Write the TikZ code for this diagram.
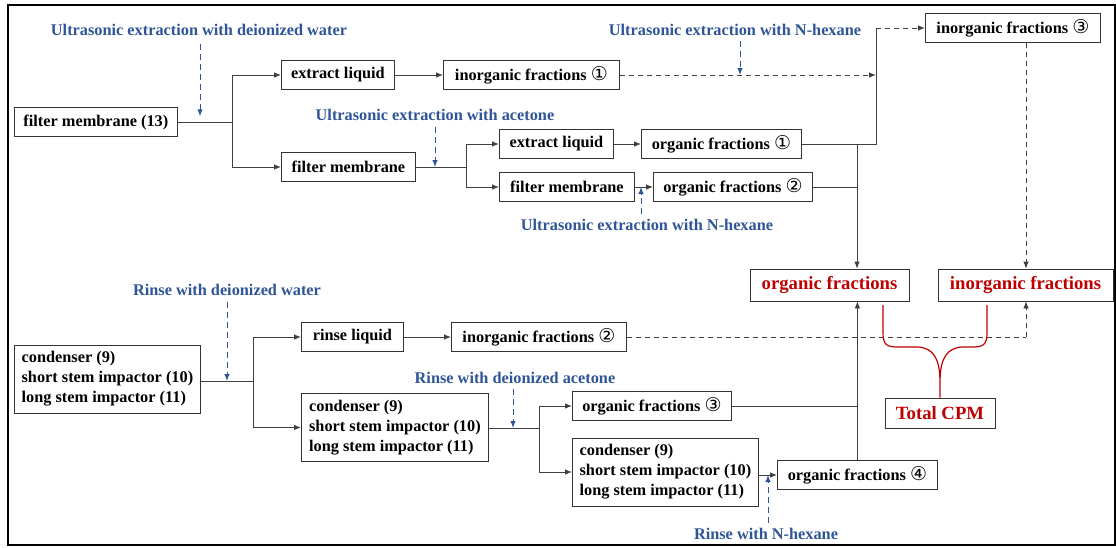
\documentclass[tikz,border=0pt]{standalone}
\usepackage{fontspec}
\setmainfont{Liberation Serif}
\newfontfamily\circfont{DejaVu Sans}
\usetikzlibrary{arrows.meta}

\definecolor{notecol}{HTML}{2F5597}
\definecolor{totcol}{HTML}{C00000}
\newcommand{\cnum}[1]{{\circfont\mdseries\fontsize{19}{20}\selectfont #1}}

\tikzset{
  box/.style={draw=black!80, line width=0.8pt, anchor=west, minimum height=29pt,
    inner xsep=6pt, font=\bfseries\fontsize{16.3}{20}\selectfont},
  stackbox/.style={box, align=left, minimum height=68pt},
  totbox/.style={box, anchor=center, text=totcol, minimum height=32pt,
    font=\bfseries\fontsize{18.7}{22}\selectfont},
  note/.style={text=notecol, font=\bfseries\fontsize{16.3}{20}\selectfont},
  wire/.style={draw=black!75, line width=0.8pt},
  arr/.style={wire, -{Latex[length=7pt,width=5.5pt]}},
  darr/.style={arr, dash pattern=on 5pt off 4pt},
  narr/.style={draw=notecol, line width=1pt, dash pattern=on 6pt off 4pt,
    -{Latex[length=7pt,width=5.5pt]}},
  brace/.style={draw=totcol, line width=1.2pt},
}

\begin{document}
\begin{tikzpicture}[x=1pt,y=-1pt]
  \useasboundingbox (0,0) rectangle (1116,547);
  \draw[line width=2pt] (8,5) rectangle (1115,545);

  % upper part: filter membrane
  \node[box, minimum width=163pt] (fm13) at (14,122) {filter membrane (13)};
  \node[box, minimum width=113pt] (el1) at (281,75) {extract liquid};
  \node[box, minimum width=176pt] (inorg1) at (443,75) {inorganic fractions \cnum{①}};
  \node[box, minimum width=134pt] (fm2) at (281,167) {filter membrane};
  \node[box, minimum width=114pt] (el2) at (499,144) {extract liquid};
  \node[box, minimum width=160pt] (org1) at (641,144) {organic fractions \cnum{①}};
  \node[box, minimum width=135pt] (fm3) at (499,187) {filter membrane};
  \node[box, minimum width=159pt] (org2) at (653,187) {organic fractions \cnum{②}};
  \node[box, minimum width=175pt] (inorg3) at (925,28) {inorganic fractions \cnum{③}};

  \node[note] (n1) at (199,30) {Ultrasonic extraction with deionized water};
  \node[note] (n2) at (435,115) {Ultrasonic extraction with acetone};
  \node[note] (n3) at (735,30) {Ultrasonic extraction with N-hexane};
  \node[note] (n4) at (647,225) {Ultrasonic extraction with N-hexane};

  % totals
  \node[totbox, minimum width=159pt] (orgT) at (829.5,285) {organic fractions};
  \node[totbox, minimum width=175pt] (inorgT) at (1025.5,285) {inorganic fractions};
  \node[totbox, minimum width=110pt, minimum height=30pt] (cpm) at (940,413) {Total CPM};

  % lower part: condenser and impactors
  \node[stackbox, minimum width=186pt] (cd1) at (14,379)
    {condenser (9)\\short stem impactor (10)\\long stem impactor (11)};
  \node[box, minimum width=102pt] (rl) at (301,337) {rinse liquid};
  \node[box, minimum width=175pt] (inorg2) at (451,337) {inorganic fractions \cnum{②}};
  \node[stackbox, minimum width=187pt] (cd2) at (301,427.5)
    {condenser (9)\\short stem impactor (10)\\long stem impactor (11)};
  \node[box, minimum width=159pt] (org3) at (572,406) {organic fractions \cnum{③}};
  \node[stackbox, minimum width=186pt] (cd3) at (572,472)
    {condenser (9)\\short stem impactor (10)\\long stem impactor (11)};
  \node[box, minimum width=160pt] (org4) at (777,475) {organic fractions \cnum{④}};

  \node[note] (n5) at (227,290) {Rinse with deionized water};
  \node[note] (n6) at (515,378) {Rinse with deionized acetone};
  \node[note] (n7) at (766,534) {Rinse with N-hexane};

  \coordinate (j1) at (232,122);
  \coordinate (j2) at (466,167);
  \coordinate (j3) at (253,381);
  \coordinate (j4) at (539,428);
  \coordinate (up) at (876,28);
  \coordinate (oc) at (857,144);
  \coordinate (ic) at (1026,337);

  % upper connectors
  \draw[wire] (fm13) -- (j1);
  \draw[arr] (j1) |- (el1);
  \draw[arr] (j1) |- (fm2);
  \draw[arr] (el1) -- (inorg1);
  \draw[darr] (inorg1) -- (inorg1 -| up);
  \draw[wire] (org1) -| (up);
  \draw[darr] (up) -- (inorg3);
  \draw[wire] (fm2) -- (j2);
  \draw[arr] (j2) |- (el2);
  \draw[arr] (j2) |- (fm3);
  \draw[arr] (el2) -- (org1);
  \draw[arr] (fm3) -- (org2);
  \draw[wire] (org2) -- (org2 -| oc);
  \draw[arr] (oc) -- (oc |- orgT.north);
  \draw[darr] (inorg3.south -| ic) -- (ic |- inorgT.north);

  % lower connectors
  \draw[wire] (cd1.east |- j3) -- (j3);
  \draw[arr] (j3) |- (rl);
  \draw[arr] (j3) |- (cd2);
  \draw[arr] (rl) -- (inorg2);
  \draw[wire, dash pattern=on 5pt off 4pt] (inorg2) -- (ic);
  \draw[darr] (ic) -- (ic |- inorgT.south);
  \draw[wire] (cd2.east |- j4) -- (j4);
  \draw[arr] (j4) |- (org3);
  \draw[arr] (j4) |- (cd3);
  \draw[wire] (org3) -- (org3 -| org4.north);
  \draw[arr] (cd3.east |- org4) -- (org4);
  \draw[arr] (org4.north) -- (org4.north |- orgT.south);

  % solvent steps
  \draw[narr] ([yshift=-5pt]n1.south -| j1) ++(-32,0) -- ++(0,72);
  \draw[narr] ([yshift=-3pt]n2.south) -- (n2.south |- fm2);
  \draw[narr] ([xshift=5pt,yshift=-2pt]n3.south) -- ([xshift=5pt]n3.south |- inorg1);
  \draw[narr] ([xshift=-6pt,yshift=2pt]n4.north) -- ([xshift=-6pt]n4.north |- org2);
  \draw[narr] ([yshift=-3pt]n5.south) -- (n5.south |- j3);
  \draw[narr] ([xshift=-2pt,yshift=-2pt]n6.south) -- ([xshift=-2pt]n6.south |- j4);
  \draw[narr] ([xshift=2pt,yshift=2pt]n7.north) -- ([xshift=2pt]n7.north |- org4);

  % brace to total
  \draw[brace] (883,305) -- (883,333) .. controls (883,345) and (887,347) .. (898,347)
    -- (918,347) .. controls (933,348) and (939,358) .. (940,378) -- (cpm.north);
  \draw[brace] (987,305) -- (987,333) .. controls (987,345) and (983,347) .. (972,347)
    -- (962,347) .. controls (947,348) and (941,358) .. (940,378);
\end{tikzpicture}
\end{document}
